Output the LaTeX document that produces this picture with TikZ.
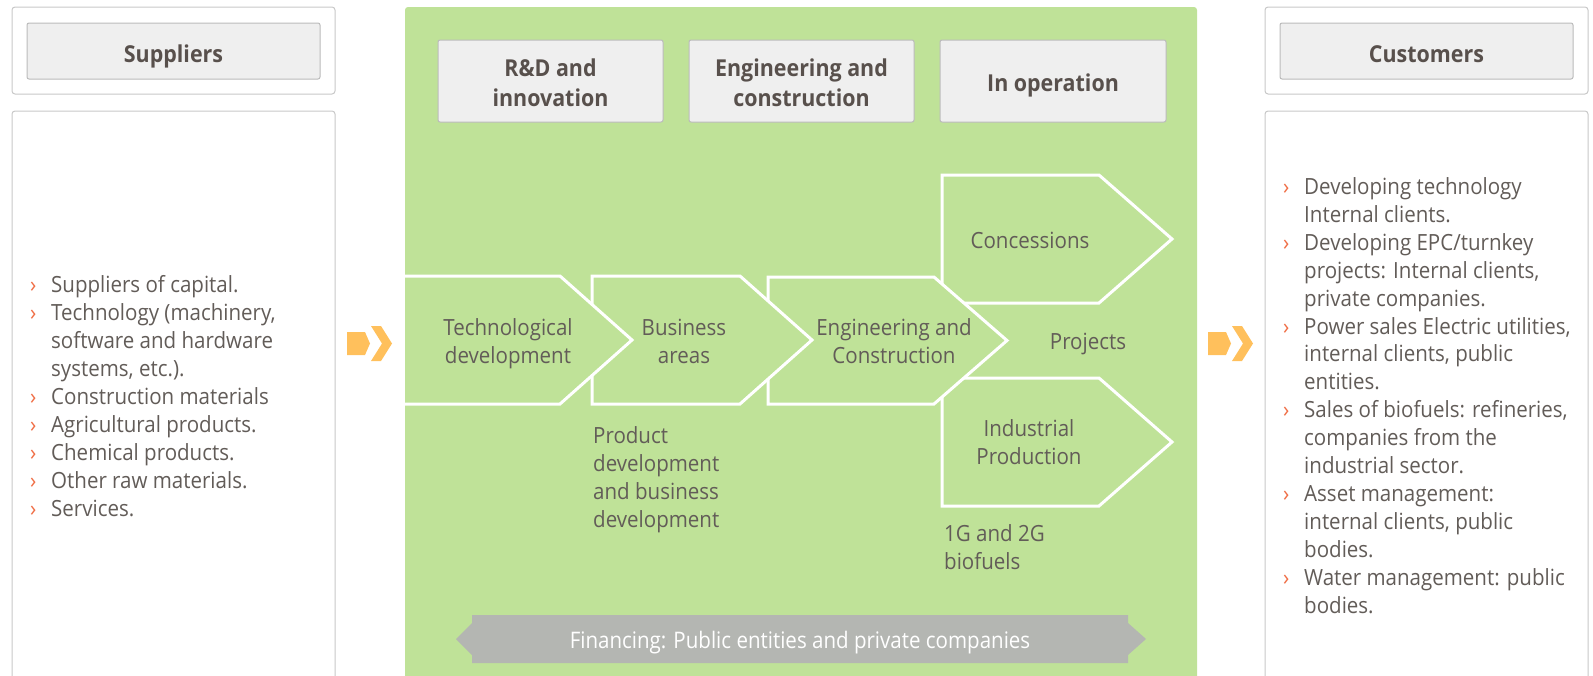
\documentclass[tikz,border=0pt]{standalone}
\usepackage{fontspec}
\setmainfont{Open Sans}[FakeStretch=0.92]
\newfontfamily\condfont{Open Sans}[FakeStretch=0.9]
\definecolor{panelg}{RGB}{191,226,152}
\definecolor{txtc}{RGB}{98,92,88}
\definecolor{hdrc}{RGB}{88,80,76}
\definecolor{bulc}{RGB}{240,110,70}
\definecolor{boxline}{RGB}{200,200,200}
\definecolor{hdrfill}{RGB}{239,239,239}
\definecolor{hdrline}{RGB}{187,187,187}
\definecolor{orng}{RGB}{255,192,92}
\definecolor{bannerc}{RGB}{180,182,178}
\newcommand{\bl}{\makebox[21pt][l]{\textcolor{bulc}{›}}}
\newcommand{\ind}{\hspace*{21pt}}
\tikzset{
  outerbox/.style={draw=boxline, line width=1pt, rounded corners=3pt, fill=white},
  hdrbox/.style={draw=hdrline, line width=1pt, rounded corners=2pt, fill=hdrfill},
  hdrtxt/.style={font=\fontsize{23.3}{30}\selectfont\bfseries, text=hdrc, inner sep=0pt, align=center, anchor=base},
  txt/.style={font=\fontsize{22.3}{27.9}\selectfont, text=txtc, inner sep=0pt, align=center, anchor=base},
  ltxt/.style={font=\fontsize{22.3}{27.9}\selectfont, text=txtc, inner sep=0pt, align=left, anchor=base west},
  chev/.style={draw=white, line width=3pt, fill=panelg, line join=miter},
  orarrow/.style={fill=orng, draw=none},
}
\begin{document}
\begin{tikzpicture}[x=1pt,y=-1pt]
\useasboundingbox (0,0) rectangle (1593,675);
\clip (0,0) rectangle (1593,675);
% side boxes
\draw[outerbox] (12,7) rectangle (335,94);
\draw[hdrbox] (27,23) rectangle (320,79);
\draw[outerbox] (12,111) rectangle (335,700);
\draw[outerbox] (1265,7) rectangle (1588,94);
\draw[hdrbox] (1280,23) rectangle (1573,79);
\draw[outerbox] (1265,111) rectangle (1588,700);
\node[hdrtxt] (sup) at (173.5,62) {Suppliers};
\node[hdrtxt] (cus) at (1426.5,62) {Customers};
% green panel
\fill[panelg, rounded corners=3pt] (405,7) rectangle (1197,700);
% headers
\draw[hdrbox] (438,40) rectangle (663,122);
\draw[hdrbox] (689,40) rectangle (914,122);
\draw[hdrbox] (940,40) rectangle (1166,122);
\node[hdrtxt] (rd) at (550.5,106) {R\&D and\\innovation};
\node[hdrtxt] (ec) at (801.5,106) {Engineering and\\construction};
\node[hdrtxt] (op) at (1053,91) {In operation};
% chevrons (drawn back to front)
\draw[chev] (942,378) -- (1099,378) -- (1172,442) -- (1099,506) -- (942,506) -- cycle;
\draw[chev] (942,175) -- (1099,175) -- (1172,239) -- (1099,303) -- (942,303) -- cycle;
\draw[chev] (768,277) -- (934,277) -- (1007,340.5) -- (934,404) -- (768,404) -- cycle;
\draw[chev] (592,276) -- (740,276) -- (812,340) -- (740,404) -- (592,404) -- cycle;
\fill[panelg] (405,276) -- (560,276) -- (632,340) -- (560,404) -- (405,404) -- cycle;
\draw[chev, fill=none] (405,276) -- (560,276) -- (632,340) -- (560,404) -- (405,404);
\node[txt] (tech) at (508,363) {Technological\\development};
\node[txt] (bus) at (684,363) {Business\\areas};
\node[txt] (eng) at (894,363) {Engineering and\\Construction};
\node[txt] (con) at (1030,248) {Concessions};
\node[txt] (proj) at (1088,349) {Projects};
\node[txt] (ind) at (1029,464) {Industrial\\Production};
\node[ltxt] (bio) at (944,569) {1G and 2G\\biofuels};
\node[ltxt] (prod) at (593,527) {Product\\development\\and business\\development};
% financing banner
\fill[bannerc] (472,615) -- (1128,615) -- (1128,623) -- (1146,639) -- (1128,655) -- (1128,663)
  -- (472,663) -- (472,655) -- (456,639) -- (472,623) -- cycle;
\node[inner sep=0pt, anchor=base, text=white, font=\fontsize{22.8}{27}\selectfont\condfont] (fin) at (800,648) {Financing: Public entities and private companies};
% orange arrows
\fill[orarrow] (347,332) -- (365,332) -- (370,343.5) -- (365,355) -- (347,355) -- cycle;
\fill[orarrow] (371,326) -- (381,326) -- (392,343.5) -- (381,361) -- (371,361) -- (382,343.5) -- cycle;
\begin{scope}[xshift=861pt]
\fill[orarrow] (347,332) -- (365,332) -- (370,343.5) -- (365,355) -- (347,355) -- cycle;
\fill[orarrow] (371,326) -- (381,326) -- (392,343.5) -- (381,361) -- (371,361) -- (382,343.5) -- cycle;
\end{scope}
% lists
\node[ltxt] (slist) at (30,516) {\bl Suppliers of capital.\\
\bl Technology (machinery,\\
\ind software and hardware\\
\ind systems, etc.).\\
\bl Construction materials\\
\bl Agricultural products.\\
\bl Chemical products.\\
\bl Other raw materials.\\
\bl Services.};
\node[ltxt] (clist) at (1283,613) {\bl Developing technology\\
\ind Internal clients.\\
\bl Developing EPC/turnkey\\
\ind projects: Internal clients,\\
\ind private companies.\\
\bl Power sales Electric utilities,\\
\ind internal clients, public\\
\ind entities.\\
\bl Sales of biofuels: refineries,\\
\ind companies from the\\
\ind industrial sector.\\
\bl Asset management:\\
\ind internal clients, public\\
\ind bodies.\\
\bl Water management: public\\
\ind bodies.};
\end{tikzpicture}
\end{document}
